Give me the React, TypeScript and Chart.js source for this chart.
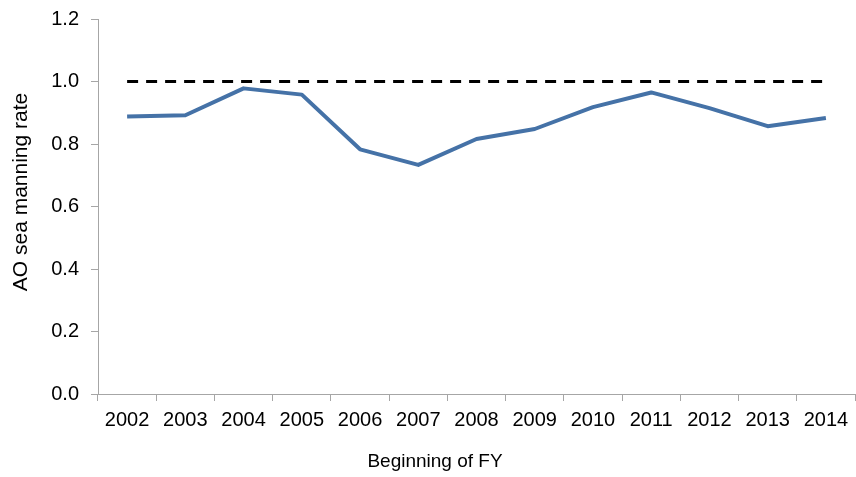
import React, { useEffect, useRef } from "react";
import { Chart, registerables } from "chart.js";

Chart.register(...registerables);

const years = ["2002", "2003", "2004", "2005", "2006", "2007", "2008", "2009", "2010", "2011", "2012", "2013", "2014"];
const manningRate = [0.888, 0.892, 0.978, 0.958, 0.783, 0.733, 0.816, 0.848, 0.918, 0.965, 0.915, 0.857, 0.883];
const targetRate = [1.0, 1.0, 1.0, 1.0, 1.0, 1.0, 1.0, 1.0, 1.0, 1.0, 1.0, 1.0, 1.0];
const yTitle = "AO sea manning rate";
const xTitle = "Beginning of FY";

const FONT = '"Liberation Sans", Arial, sans-serif';

export default function App() {
  const ref = useRef<HTMLCanvasElement>(null);
  useEffect(() => {
    if (!ref.current) return;
    const titles = {
      id: "titles",
      afterDraw(chart: any) {
        const ctx = chart.ctx;
        ctx.save();
        ctx.fillStyle = "#000";
        ctx.textAlign = "center";
        ctx.textBaseline = "middle";
        ctx.font = `19px ${FONT}`;
        ctx.fillText(xTitle, 435, 462);
        ctx.translate(21, 192);
        ctx.rotate(-Math.PI / 2);
        ctx.font = `21px ${FONT}`;
        ctx.fillText(yTitle, 0, 0);
        ctx.restore();
      },
    };
    const chart = new Chart(ref.current, {
      type: "line",
      data: {
        labels: years,
        datasets: [
          {
            data: manningRate,
            borderColor: "#4572A7",
            borderWidth: 4,
            pointRadius: 0,
            tension: 0,
            borderJoinStyle: "round",
          },
          {
            data: targetRate,
            borderColor: "#000000",
            borderWidth: 3,
            borderDash: [11, 8],
            pointRadius: 0,
            tension: 0,
          },
        ],
      },
      options: {
        responsive: false,
        animation: false,
        layout: { padding: { top: 19, right: 1, bottom: 0, left: 1 } },
        plugins: { legend: { display: false }, tooltip: { enabled: false } },
        scales: {
          x: {
            type: "category",
            offset: true,
            afterFit: (s: any) => { s.height = 83; s.paddingLeft = 0; s.paddingRight = 0; },
            grid: { display: true, drawOnChartArea: false, offset: true, tickLength: 7, color: "#A6A6A6" },
            border: { color: "#A6A6A6", width: 1 },
            ticks: { color: "#000", font: { family: FONT, size: 20 }, padding: 7, maxRotation: 0, autoSkip: false },
          },
          y: {
            min: 0,
            max: 1.2,
            afterFit: (s: any) => { s.width = 97; s.paddingTop = 0; s.paddingBottom = 0; },
            grid: { display: true, drawOnChartArea: false, tickLength: 7, color: "#A6A6A6" },
            border: { color: "#A6A6A6", width: 1 },
            ticks: {
              stepSize: 0.2,
              color: "#000",
              font: { family: FONT, size: 20 },
              padding: 12,
              callback: (v: any) => Number(v).toFixed(1),
            },
          },
        },
      },
      plugins: [titles],
    });
    return () => chart.destroy();
  }, []);
  return (
    <div style={{ position: "fixed", left: 0, top: 0, width: 856, height: 477, background: "#fff" }}>
      <canvas ref={ref} width={856} height={477} style={{ display: "block", width: 856, height: 477 }} />
    </div>
  );
}
